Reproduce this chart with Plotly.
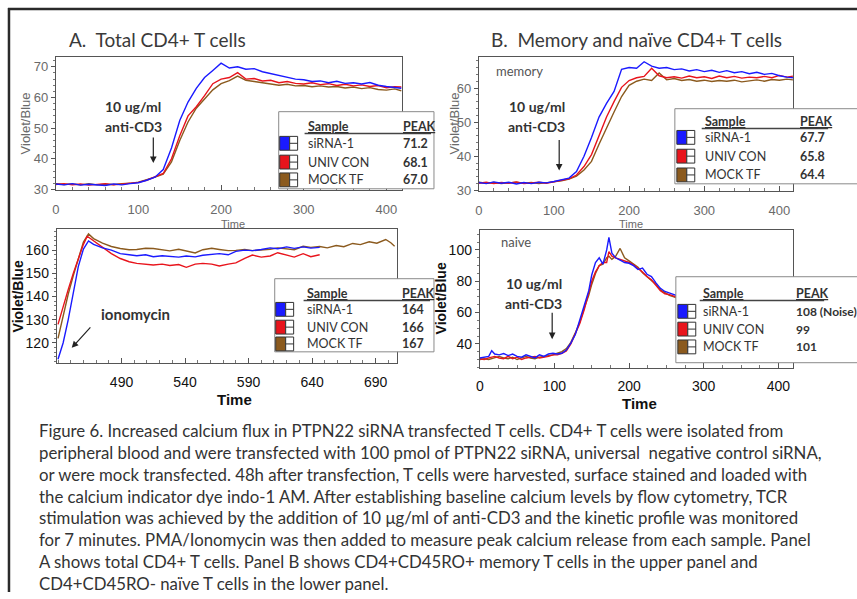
import plotly.graph_objects as go

# ---------------- data ----------------
SERIES = ["siRNA-1", "UNIV CON", "MOCK TF"]
COLORS = ["#1a1aff", "#e8141c", "#8b5a1e"]

# Panel A, anti-CD3 stimulation (total CD4+)
A_TOP_T = [0, 10, 20, 30, 40, 50, 60, 70, 80, 90, 100, 110, 120, 130, 140, 150, 160, 170, 180, 190,
           200, 210, 220, 230, 240, 250, 260, 270, 280, 290, 300, 310, 320, 330, 340, 350, 360, 370,
           380, 390, 400, 410, 418]
A_TOP_SIRNA = [31.8, 31.5, 31.9, 31.4, 31.7, 31.6, 31.3, 31.8, 31.5, 31.9, 32.2, 33.0, 34.0, 36.5, 43.5,
               52.5, 58.5, 63.0, 66.5, 68.8, 71.2, 69.6, 70.0, 69.2, 69.4, 68.4, 67.8, 67.0, 66.6, 66.0,
               65.8, 65.2, 65.4, 64.8, 65.3, 64.6, 64.8, 64.4, 64.9, 64.0, 63.6, 63.2, 63.0]
A_TOP_UNIV = [31.6, 31.9, 31.5, 31.8, 31.4, 31.7, 31.9, 31.5, 31.7, 32.0, 32.3, 33.0, 34.0, 35.2, 40.0,
              47.5, 54.0, 57.0, 60.6, 64.5, 66.0, 66.5, 68.1, 66.0, 66.2, 65.4, 65.6, 64.8, 65.2, 64.6,
              64.4, 64.8, 64.2, 64.5, 63.9, 64.3, 63.8, 64.1, 63.6, 63.9, 63.2, 63.5, 63.4]
A_TOP_MOCK = [31.9, 31.6, 31.8, 31.5, 31.9, 31.5, 31.7, 31.6, 31.9, 32.0, 32.4, 33.1, 34.0, 35.0, 39.0,
              46.0, 52.0, 56.5, 59.5, 62.5, 64.5, 65.5, 67.0, 65.6, 65.2, 64.8, 64.5, 64.0, 64.3, 63.8,
              63.9, 63.5, 63.8, 63.4, 63.6, 63.1, 63.4, 62.9, 63.2, 62.6, 62.4, 62.8, 62.2]

# Panel A, ionomycin
A_BOT_T_SIRNA = [440, 444, 448, 452, 456, 460, 464, 468, 475, 482, 489, 496, 502, 509, 515, 522, 528,
                 535, 541, 548, 554, 561, 567, 574, 580, 587, 593, 600, 607, 613, 620, 626, 633, 639, 646]
A_BOT_SIRNA = [113.0, 120.0, 130.0, 142.0, 153.0, 160.5, 164.0, 162.5, 161.0, 160.0, 158.5, 158.0,
               157.6, 158.0, 157.2, 157.6, 157.3, 157.0, 157.5, 157.1, 157.8, 158.2, 158.5, 158.0,
               159.5, 160.0, 159.8, 160.3, 161.0, 160.6, 161.4, 160.8, 161.4, 160.9, 161.2]
A_BOT_T_UNIV = [440, 444, 448, 452, 456, 460, 463, 468, 475, 482, 489, 496, 502, 509, 515, 522, 528,
                535, 541, 548, 554, 561, 567, 574, 580, 587, 593, 600, 607, 613, 620, 626, 633, 639, 646]
A_BOT_UNIV = [128.0, 136.0, 143.0, 150.0, 156.0, 162.5, 166.0, 164.0, 161.0, 158.5, 156.4, 155.0,
              154.3, 153.8, 153.6, 154.0, 153.4, 153.8, 152.6, 154.0, 154.3, 154.0, 153.2, 154.0,
              154.5, 156.5, 157.9, 157.0, 157.5, 158.9, 158.0, 157.0, 158.5, 157.2, 158.0]
A_BOT_T_MOCK = [440, 444, 448, 452, 456, 460, 464, 468, 475, 482, 489, 496, 502, 509, 515, 522, 528,
                535, 541, 548, 554, 561, 567, 574, 580, 587, 593, 600, 607, 613, 620, 626, 633, 639,
                646, 652, 659, 665, 672, 678, 685, 691, 698, 702, 705]
A_BOT_MOCK = [122.0, 132.0, 141.0, 149.0, 156.0, 163.5, 167.0, 165.0, 163.0, 161.6, 160.7, 160.2,
              160.3, 160.8, 160.7, 160.0, 159.7, 160.4, 159.6, 158.8, 160.2, 160.8, 160.3, 159.8,
              159.9, 160.3, 159.8, 160.0, 160.4, 161.0, 160.6, 160.2, 161.7, 161.2, 161.6, 161.0,
              162.0, 161.5, 162.9, 162.4, 163.6, 163.0, 164.6, 163.2, 161.7]

# Panel B, memory CD4+CD45RO+
B_MEM_T = A_TOP_T
B_MEM_SIRNA = [32.3, 32.0, 32.5, 32.1, 32.4, 31.9, 32.3, 32.0, 32.4, 32.2, 32.6, 33.0, 33.6, 35.5, 40.0,
               45.5, 51.5, 55.5, 59.0, 65.5, 66.0, 65.8, 67.7, 66.4, 65.8, 66.0, 65.4, 65.6, 65.0, 65.4,
               64.8, 65.2, 64.6, 65.1, 64.5, 64.8, 64.2, 64.6, 64.0, 64.3, 63.6, 63.2, 63.0]
B_MEM_UNIV = [32.1, 32.4, 32.0, 32.3, 32.1, 32.5, 32.0, 32.2, 32.4, 32.1, 32.5, 32.9, 33.4, 34.5, 37.0,
              40.5, 46.0, 51.5, 56.0, 60.2, 62.2, 63.0, 63.4, 65.8, 63.6, 63.0, 63.3, 62.9, 63.5, 63.0,
              63.3, 62.8, 63.5, 63.0, 63.4, 62.9, 63.2, 63.0, 63.4, 63.0, 63.7, 63.2, 63.5]
B_MEM_MOCK = [32.4, 32.1, 32.3, 32.0, 32.2, 32.4, 32.1, 32.3, 32.0, 32.3, 32.4, 32.8, 33.3, 34.2, 36.0,
              38.5, 43.5, 48.5, 53.0, 57.5, 60.8, 62.0, 62.6, 62.2, 64.4, 62.4, 62.8, 62.2, 62.5, 62.0,
              62.3, 61.9, 62.2, 62.0, 62.3, 61.8, 62.2, 62.4, 62.0, 62.5, 62.3, 62.6, 62.4]

# Panel B, naive CD4+CD45RO-
B_NAI_T = [0, 6, 12, 16, 20, 26, 32, 38, 44, 50, 56, 62, 68, 74, 80, 86, 92, 98, 104, 110, 116, 122,
           128, 134, 140, 146, 150, 155, 160, 165, 170, 173, 177, 182, 188, 194, 200, 206, 212, 218,
           224, 230, 236, 242, 248, 254, 260, 266]
B_NAI_SIRNA = [31.0, 31.5, 32.0, 35.6, 33.5, 33.0, 33.8, 32.5, 33.5, 32.0, 31.5, 33.0, 32.0, 31.0, 33.0,
               32.0, 33.5, 34.0, 33.5, 34.0, 36.0, 40.5, 46.0, 55.0, 65.0, 74.0, 84.0, 92.0, 95.0, 91.0,
               100.0, 108.0, 98.0, 95.0, 93.5, 92.0, 91.5, 90.0, 87.5, 88.5, 84.5, 83.0, 79.0, 75.5,
               73.5, 72.5, 71.5, 70.5]
B_NAI_UNIV = [30.5, 30.0, 31.0, 31.5, 32.0, 31.0, 30.5, 32.0, 30.5, 31.5, 30.0, 31.0, 31.5, 32.0, 31.0,
              31.5, 32.0, 33.0, 33.0, 34.0, 35.5, 40.0, 46.0, 53.0, 62.0, 72.0, 80.0, 86.0, 90.0, 92.0,
              92.0, 99.0, 96.0, 95.0, 94.0, 93.0, 92.0, 90.5, 88.5, 86.0, 83.0, 81.0, 77.5, 74.0, 72.0,
              71.5, 70.5, 69.5]
B_NAI_MOCK = [30.0, 30.5, 30.0, 30.5, 31.0, 32.0, 31.0, 30.5, 31.5, 30.0, 31.0, 32.0, 31.0, 30.5, 31.5,
              32.0, 32.5, 33.0, 34.0, 35.0, 37.0, 41.0, 47.0, 54.0, 63.0, 71.0, 78.0, 85.0, 90.0, 91.0,
              95.0, 96.0, 94.0, 96.0, 101.0, 95.0, 93.0, 91.0, 89.0, 85.5, 83.0, 80.5, 78.0, 74.5, 72.5,
              71.0, 70.0, 69.0]

X_TICKS_KINETIC = [0, 100, 200, 300, 400]
X_TICKS_IONO = [490, 540, 590, 640, 690]

CAPTION = [
    "Figure 6. Increased calcium flux in PTPN22 siRNA transfected T cells. CD4+ T cells were isolated from",
    "peripheral blood and were transfected with 100 pmol of PTPN22 siRNA, universal  negative control siRNA,",
    "or were mock transfected. 48h after transfection, T cells were harvested, surface stained and loaded with",
    "the calcium indicator dye indo-1 AM. After establishing baseline calcium levels by flow cytometry, TCR",
    "stimulation was achieved by the addition of 10 \u03bcg/ml of anti-CD3 and the kinetic profile was monitored",
    "for 7 minutes. PMA/Ionomycin was then added to measure peak calcium release from each sample. Panel",
    "A shows total CD4+ T cells. Panel B shows CD4+CD45RO+ memory T cells in the upper panel and",
    "CD4+CD45RO- na\u00efve T cells in the lower panel.",
]

# ---------------- layout helpers (pixel -> paper) ----------------
W, H = 857, 599


def px(x):
    return x / W


def py(y):
    return 1 - y / H


fig = go.Figure()

panels = [
    ("x", "y", [A_TOP_T] * 3, [A_TOP_SIRNA, A_TOP_UNIV, A_TOP_MOCK]),
    ("x2", "y2", [A_BOT_T_SIRNA, A_BOT_T_UNIV, A_BOT_T_MOCK], [A_BOT_SIRNA, A_BOT_UNIV, A_BOT_MOCK]),
    ("x3", "y3", [B_MEM_T] * 3, [B_MEM_SIRNA, B_MEM_UNIV, B_MEM_MOCK]),
    ("x4", "y4", [B_NAI_T] * 3, [B_NAI_SIRNA, B_NAI_UNIV, B_NAI_MOCK]),
]
# draw mock first so siRNA sits on top
for xa, ya, ts, vs in panels:
    for i in [2, 1, 0]:
        fig.add_trace(go.Scatter(x=ts[i], y=vs[i], mode="lines", xaxis=xa, yaxis=ya,
                                 line=dict(color=COLORS[i], width=1.4), showlegend=False,
                                 name=SERIES[i], hoverinfo="skip"))

ARIAL = "Liberation Sans, Arial"
LIGHT_TICK = dict(family=ARIAL, size=13, color="#6a6a6a")
BOLD_TICK = dict(family=ARIAL, size=14, color="#111")


def xax(domain, rng, ticks, font, anchor, standoff, minor_dt):
    return dict(domain=domain, range=rng, tickvals=ticks, anchor=anchor, showgrid=False,
                zeroline=False, showline=True, linecolor="#555", linewidth=1, mirror=True,
                ticks="inside", ticklen=5, tickcolor="#555", tickfont=font,
                ticklabelstandoff=standoff,
                minor=dict(dtick=minor_dt, ticks="inside", ticklen=3, tickcolor="#777",
                           tick0=ticks[0]))


def yax(domain, rng, dtick, font, anchor, minor_dt):
    return dict(domain=domain, range=rng, dtick=dtick, anchor=anchor, showgrid=False,
                zeroline=False, showline=True, linecolor="#555", linewidth=1, mirror=True,
                ticks="outside", ticklen=4, tickcolor="#555", tickfont=font,
                minor=dict(dtick=minor_dt, ticks="outside", ticklen=2, tickcolor="#777"))


fig.update_layout(
    width=W, height=H, margin=dict(l=0, r=0, t=0, b=0),
    paper_bgcolor="white", plot_bgcolor="white", showlegend=False,
    font=dict(family=ARIAL),
    xaxis=xax([px(52), px(400)], [0, 419], X_TICKS_KINETIC, LIGHT_TICK, "y", 8, 20),
    yaxis=yax([py(192), py(58)], [29.9, 73.1], 10, LIGHT_TICK, "x", 2),
    xaxis2=xax([px(53), px(395)], [439, 707], X_TICKS_IONO, BOLD_TICK, "y2", 6, 10),
    yaxis2=yax([py(367), py(232)], [111.5, 169], 10, BOLD_TICK, "x2", 2),
    xaxis3=xax([px(477), px(793)], [0, 418.5], X_TICKS_KINETIC, LIGHT_TICK, "y3", 8, 20),
    yaxis3=yax([py(193), py(58)], [29.9, 69], 10, LIGHT_TICK, "x3", 2),
    xaxis4=xax([px(478), px(793)], [0, 420], X_TICKS_KINETIC, BOLD_TICK, "y4", 6, 25),
    yaxis4=yax([py(372), py(233)], [24.8, 112.6], 20, BOLD_TICK, "x4", 5),
)

shapes = []
ann = []


def text(x, y, s, size, color="#333", family="Lato, Open Sans", anchor="center", angle=0,
         bold=False, yanchor="middle"):
    ann.append(dict(x=px(x), y=py(y), xref="paper", yref="paper", text=f"<b>{s}</b>" if bold else s,
                    showarrow=False, xanchor=anchor, yanchor=yanchor, textangle=angle,
                    font=dict(size=size, color=color, family=family)))


# outer frame of the figure
shapes.append(dict(type="line", xref="paper", yref="paper", x0=px(5), x1=px(5), y0=py(8), y1=0,
                   line=dict(color="#2a2a2a", width=2.5)))
shapes.append(dict(type="line", xref="paper", yref="paper", x0=px(4), x1=1, y0=py(9), y1=py(9),
                   line=dict(color="#2a2a2a", width=2.5)))

# panel titles
text(63, 40, "A.  Total CD4+ T cells", 19, "#3a3a3a", anchor="left")
text(487, 40, "B.  Memory and na\u00efve CD4+ T cells", 19, "#3a3a3a", anchor="left")

# axis titles
text(22, 125, "Violet/Blue", 13, "#6a6a6a", ARIAL, angle=-90)
text(453, 125, "Violet/Blue", 13, "#6a6a6a", ARIAL, angle=-90)
text(230, 227, "Time", 11, "#6a6a6a", ARIAL)
text(630, 227, "Time", 11, "#6a6a6a", ARIAL)
text(15, 300, "Violet/Blue", 14, "#111", ARIAL, angle=-90, bold=True)
text(440, 302, "Violet/Blue", 14, "#111", ARIAL, angle=-90, bold=True)
text(232, 404, "Time", 15, "#111", ARIAL, bold=True)
text(638, 408, "Time", 15, "#111", ARIAL, bold=True)

# in-plot labels
text(492, 72, "memory", 13, "#555", anchor="left")
text(497, 245, "naive", 13, "#555", anchor="left")
for cx, y1, y2 in [(130, 108, 128), (535, 108, 128), (532, 287, 307)]:
    text(cx, y1, "10 ug/ml", 14, "#333", bold=True)
    text(cx, y2, "anti-CD3", 14, "#333", bold=True)
text(132, 318, "ionomycin", 15, "#333", bold=True)

# stimulation arrows
for xr, yr, tx, ty, axp, ayp in [("x", "y", 118, 38.6, 0, -27), ("x3", "y3", 107, 35.8, 0, -32),
                                 ("x4", "y4", 97, 43, 0, -28), ("x2", "y2", 450.8, 117.9, 20, -22)]:
    ann.append(dict(x=tx, y=ty, xref=xr, yref=yr, ax=axp, ay=ayp, axref="pixel", ayref="pixel",
                    text="", showarrow=True, arrowhead=2, arrowsize=1.1, arrowwidth=1.2,
                    arrowcolor="#222"))


# legend tables
def table(x0, y0, x1, y1, header_y, rows_y, label_x, value_x, sq_x, values, value_size=12.5):
    shapes.append(dict(type="rect", xref="paper", yref="paper", x0=px(x0), x1=px(x1), y0=py(y1),
                       y1=py(y0), fillcolor="white", line=dict(color="#8a8a8a", width=1),
                       layer="above"))
    text(label_x, header_y, "<u>Sample</u>", 12.5, "#333", anchor="left", bold=True)
    text(value_x, header_y, "<u>PEAK</u>", 12.5, "#333", anchor="left", bold=True)
    shapes.append(dict(type="line", xref="paper", yref="paper", x0=px(label_x - 1),
                       x1=px(min(x1 - 2, value_x + 30)),
                       y0=py(header_y + 7), y1=py(header_y + 7),
                       line=dict(color="#444", width=1.5), layer="above"))
    for ry, col, lab, val in zip(rows_y, COLORS, SERIES, values):
        shapes.append(dict(type="rect", xref="paper", yref="paper", x0=px(sq_x), x1=px(sq_x + 10),
                           y0=py(ry + 7), y1=py(ry - 7), fillcolor=col,
                           line=dict(color="#333", width=1), layer="above"))
        shapes.append(dict(type="rect", xref="paper", yref="paper", x0=px(sq_x + 10), x1=px(sq_x + 18),
                           y0=py(ry + 7), y1=py(ry - 7), fillcolor="white",
                           line=dict(color="#333", width=1), layer="above"))
        shapes.append(dict(type="line", xref="paper", yref="paper", x0=px(sq_x + 10), x1=px(sq_x + 18),
                           y0=py(ry), y1=py(ry), line=dict(color="#333", width=1), layer="above"))
        text(label_x, ry, lab, 12.5, "#333", anchor="left")
        text(value_x, ry, val, value_size, "#333", anchor="left", bold=True)


table(276, 113, 432, 191, 128, [145, 164, 182], 303, 399, 277,
      [f"{max(v):.1f}" for v in [A_TOP_SIRNA, A_TOP_UNIV, A_TOP_MOCK]])
table(272, 282, 432, 356, 297, [313, 331, 348], 302, 398, 273,
      [f"{max(v):.0f}" for v in [A_BOT_SIRNA, A_BOT_UNIV, A_BOT_MOCK]])
table(674, 110, 860, 186, 123, [139, 158, 177], 702, 798, 676,
      [f"{max(v):.1f}" for v in [B_MEM_SIRNA, B_MEM_UNIV, B_MEM_MOCK]])
table(675, 280, 860, 367, 297, [315, 333, 351], 700, 794, 677,
      [f"{max(B_NAI_SIRNA):.0f} (Noise)", f"{max(B_NAI_UNIV):.0f}", f"{max(B_NAI_MOCK):.0f}"],
      value_size=12)

# caption
for i, line in enumerate(CAPTION):
    text(33, 436 + i * 22.0, line, 16.8, "#333", anchor="left")

fig.update_layout(shapes=shapes, annotations=ann)
fig.write_html("out.html")
